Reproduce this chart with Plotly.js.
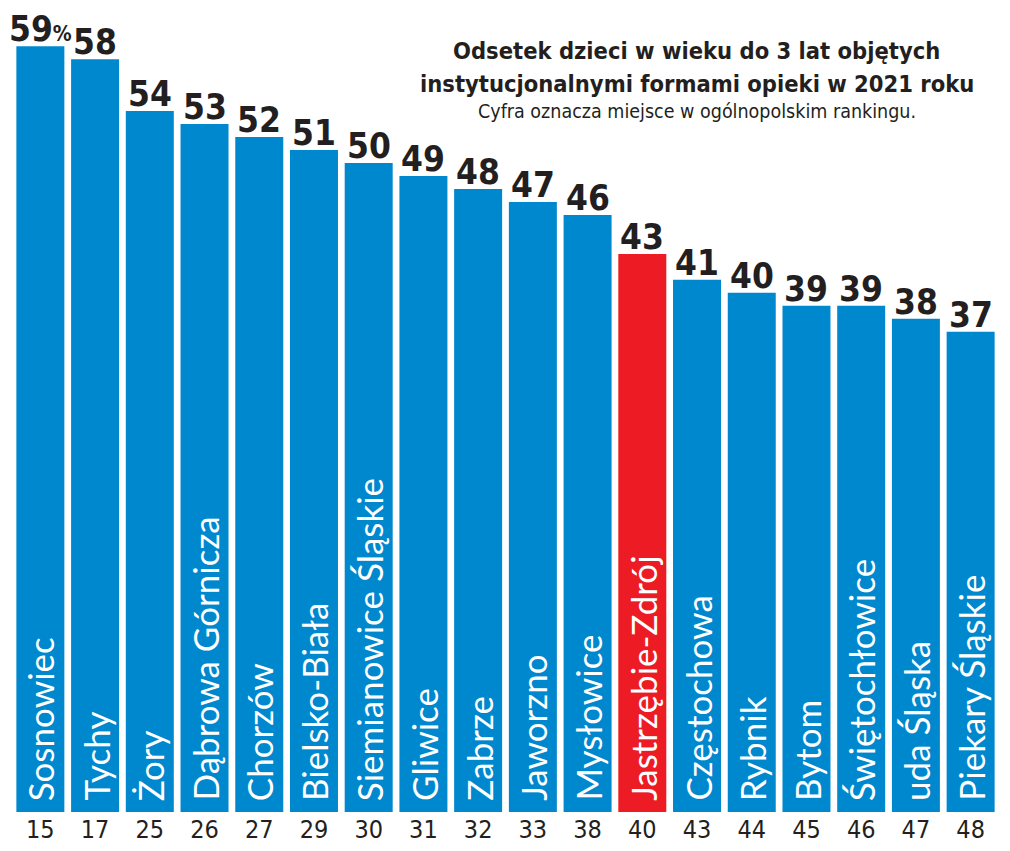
<!DOCTYPE html>
<html>
<head>
<meta charset="utf-8">
<script src="https://cdn.plot.ly/plotly-3.0.1.min.js"></script>
<style>html,body{margin:0;padding:0;background:#fff;}</style>
</head>
<body>
<div id="chart" style="width:1010px;height:851px;"></div>
<script>
const cities = ["Sosnowiec","Tychy","Żory","Dąbrowa Górnicza","Chorzów","Bielsko-Biała","Siemianowice Śląskie","Gliwice","Zabrze","Jaworzno","Mysłowice","Jastrzębie-Zdrój","Częstochowa","Rybnik","Bytom","Świętochłowice","uda Śląska","Piekary Śląskie"];
const values = [59,58,54,53,52,51,50,49,48,47,46,43,41,40,39,39,38,37];
const ranks = ["15","17","25","26","27","29","30","31","32","33","38","40","43","44","45","46","47","48"];
const highlight = "Jastrzębie-Zdrój";

const BLUE = "#0088cf", RED = "#ed1c24", DARK = "#231f20";
const COND = "'DejaVu Sans Condensed', 'DejaVu Sans', sans-serif";
const xs = cities.map((_, i) => i);
const colors = cities.map(c => c === highlight ? RED : BLUE);

const trace = {
  type: "bar",
  x: xs,
  y: values,
  marker: {color: colors, line: {width: 0}},
  hoverinfo: "skip"
};

const annotations = [];
values.forEach((v, i) => {
  annotations.push({
    x: i, y: v, xref: "x", yref: "y",
    text: i === 0 ? v + "<span style='font-size:21px'>%</span>" : String(v),
    showarrow: false, xanchor: "center", yanchor: "bottom", yshift: -5,
    font: {family: COND, size: 35, color: DARK, weight: 700}
  });
  annotations.push({
    x: i, y: 0, xref: "x", yref: "y",
    text: cities[i], textangle: -90,
    showarrow: false, xanchor: "center", yanchor: "bottom", yshift: 9,
    font: {family: "Lato", size: 35, color: "#ffffff"}
  });
});

const px = x => (x - 12.6) / (1010 - 24.2);
const py = y => 1 - y / 812;
annotations.push({
  xref: "paper", yref: "paper", x: px(697), y: py(51), xanchor: "center", yanchor: "middle",
  text: "Odsetek dzieci w wieku do 3 lat objętych", showarrow: false,
  font: {family: COND, size: 23.5, color: DARK, weight: 700}
});
annotations.push({
  xref: "paper", yref: "paper", x: px(697), y: py(84), xanchor: "center", yanchor: "middle",
  text: "instytucjonalnymi formami opieki w 2021 roku", showarrow: false,
  font: {family: COND, size: 23.5, color: DARK, weight: 700}
});
annotations.push({
  xref: "paper", yref: "paper", x: px(697), y: py(111), xanchor: "center", yanchor: "middle",
  text: "Cyfra oznacza miejsce w ogólnopolskim rankingu.", showarrow: false,
  font: {family: COND, size: 19.5, color: DARK}
});

const layout = {
  width: 1010, height: 851,
  margin: {l: 12.6, r: 11.6, t: 0, b: 39, pad: 0},
  paper_bgcolor: "#ffffff", plot_bgcolor: "#ffffff",
  bargap: 0.123,
  showlegend: false,
  xaxis: {
    range: [-0.5, 17.5], tickvals: xs, ticktext: ranks,
    showgrid: false, zeroline: false, showline: false, ticks: "",
    tickfont: {family: COND, size: 25, color: DARK},
    fixedrange: true
  },
  yaxis: {
    range: [0, 62.56], visible: false, showgrid: false, zeroline: false, fixedrange: true
  },
  annotations: annotations
};

Plotly.newPlot("chart", [trace], layout, {displayModeBar: false, staticPlot: true});
</script>
</body>
</html>
